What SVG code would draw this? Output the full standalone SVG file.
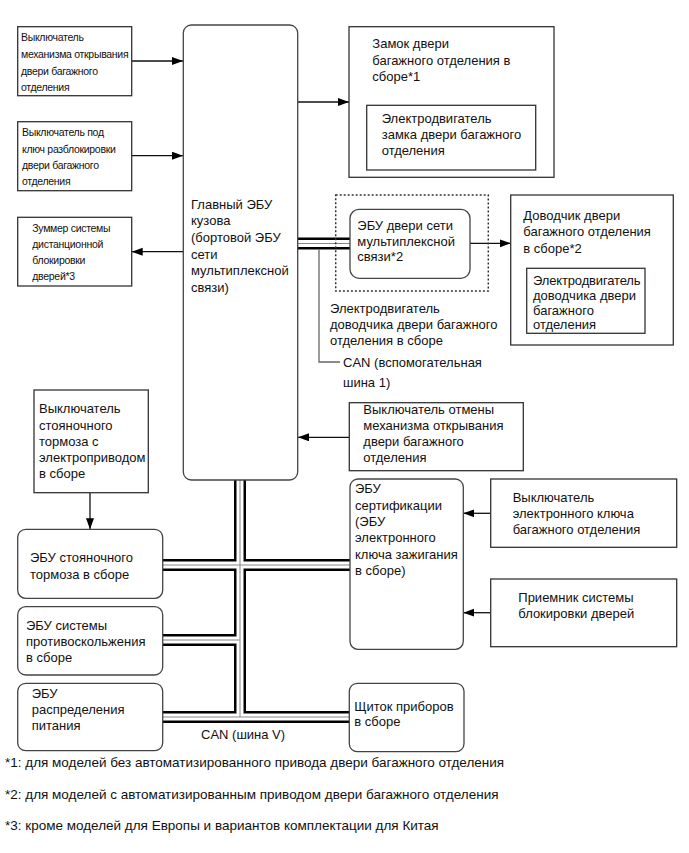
<svg xmlns="http://www.w3.org/2000/svg" width="689" height="853" viewBox="0 0 689 853">
<style>
text{font-family:"Liberation Sans",Arial,sans-serif;font-size:13px;fill:#111}
.s{font-size:10.5px;letter-spacing:-0.3px}
.fn{font-size:13.5px}
.box{fill:#fff;stroke:#333;stroke-width:1.3}
.rbox{fill:#fff;stroke:#444;stroke-width:1.3}
.dot{fill:none;stroke:#333;stroke-width:1.5;stroke-dasharray:2 2}
.arr{fill:none;stroke:#111;stroke-width:1.3;marker-end:url(#ah)}
.bk{fill:none;stroke:#000;stroke-width:12}
.wh{fill:none;stroke:#fff;stroke-width:7}
.gr{fill:none;stroke:#888;stroke-width:1}
.sub{fill:none;stroke:#666;stroke-width:1.3}
</style>
<defs>
<marker id="ah" markerUnits="userSpaceOnUse" markerWidth="12" markerHeight="10" refX="11" refY="4" orient="auto">
<path d="M0,0 L11,4 L0,8 Z" fill="#000"/>
</marker>
</defs>
<rect width="689" height="853" fill="#fff"/>

<g id="connectors">
<path class="bk" d="M298,243.5 H350"/>
<path class="bk" d="M240,480 V717"/>
<path class="bk" d="M162.7,565 H350"/>
<path class="bk" d="M162.7,640 H240"/>
<path class="bk" d="M162.7,717 H349.3"/>
<path class="wh" d="M298,243.5 H350"/>
<path class="wh" d="M240,480 V717"/>
<path class="wh" d="M162.7,565 H350"/>
<path class="wh" d="M162.7,640 H240"/>
<path class="wh" d="M162.7,717 H349.3"/>
<path class="gr" d="M298,243.5 H350"/>
<path class="gr" d="M240,480 V717"/>
<path class="gr" d="M162.7,565 H350"/>
<path class="gr" d="M162.7,640 H240"/>
<path class="gr" d="M162.7,717 H349.3"/>
<path class="sub" d="M319,249.5 V362 H340"/>
<path class="arr" d="M131.7,61 H183"/>
<path class="arr" d="M131.7,155.7 H183"/>
<path class="arr" d="M183,251.7 H131.7"/>
<path class="arr" d="M298,102 H349"/>
<path class="arr" d="M470,243.3 H510.7"/>
<path class="arr" d="M349.3,437.3 H298"/>
<path class="arr" d="M490.7,513.3 H463.3"/>
<path class="arr" d="M490.7,612.7 H463.3"/>
<path class="arr" d="M90,492.7 V529.3"/>
</g>

<g id="main-ecu">
<rect class="rbox" x="183.3" y="25" width="114.4" height="455" rx="8"/>
<text x="191" y="208.5">Главный ЭБУ</text>
<text x="191" y="225">кузова</text>
<text x="191" y="241.5">(бортовой ЭБУ</text>
<text x="191" y="258.5">сети</text>
<text x="191" y="275">мультиплексной</text>
<text x="191" y="291.5">связи)</text>
</g>

<g id="sw-open">
<rect class="box" x="17.7" y="26.7" width="114" height="69"/>
<text class="s" x="21" y="41">Выключатель</text>
<text class="s" x="21" y="58">механизма открывания</text>
<text class="s" x="21" y="74.5">двери багажного</text>
<text class="s" x="21" y="90.5">отделения</text>
</g>

<g id="sw-key">
<rect class="box" x="17.7" y="121.7" width="114" height="69"/>
<text class="s" x="22" y="136">Выключатель под</text>
<text class="s" x="22" y="152.5">ключ разблокировки</text>
<text class="s" x="22" y="169">двери багажного</text>
<text class="s" x="22" y="185">отделения</text>
</g>

<g id="buzzer">
<rect class="box" x="17.7" y="217.3" width="114" height="68.7"/>
<text class="s" x="32.3" y="231.5">Зуммер системы</text>
<text class="s" x="32.3" y="248">дистанционной</text>
<text class="s" x="32.3" y="264">блокировки</text>
<text class="s" x="32.3" y="280">дверей*3</text>
</g>

<g id="lock">
<rect class="box" x="349" y="26.7" width="205" height="150.6"/>
<text x="372.3" y="48">Замок двери</text>
<text x="372.3" y="64.5">багажного отделения в</text>
<text x="372.3" y="81">сборе*1</text>
<rect class="box" x="366.7" y="105.3" width="169" height="64.7"/>
<text x="381.7" y="123">Электродвигатель</text>
<text x="381.7" y="139">замка двери багажного</text>
<text x="381.7" y="155">отделения</text>
</g>

<g id="door-ecu">
<rect class="dot" x="335.7" y="195" width="152.6" height="96"/>
<rect class="rbox" x="350" y="209.3" width="120" height="69" rx="9"/>
<text x="357.3" y="229.5">ЭБУ двери сети</text>
<text x="357.3" y="245.5">мультиплексной</text>
<text x="357.3" y="261">связи*2</text>
<text x="330" y="313">Электродвигатель</text>
<text x="330" y="329">доводчика двери багажного</text>
<text x="330" y="345">отделения в сборе</text>
</g>

<g id="closer">
<rect class="box" x="510.7" y="195" width="162.6" height="150"/>
<text x="523.3" y="219.5">Доводчик двери</text>
<text x="523.3" y="236">багажного отделения</text>
<text x="523.3" y="252.5">в сборе*2</text>
<rect class="box" x="526.7" y="268.3" width="118.3" height="65"/>
<text x="533" y="284.5" style="letter-spacing:-0.15px">Электродвигатель</text>
<text x="533" y="299.5">доводчика двери</text>
<text x="533" y="314.5">багажного</text>
<text x="533" y="329">отделения</text>
</g>

<g id="can-sub-label">
<text x="343" y="366.5">CAN (вспомогательная</text>
<text x="343" y="386.5">шина 1)</text>
</g>

<g id="sw-cancel">
<rect class="box" x="349.3" y="402.7" width="174" height="68"/>
<text x="363.3" y="414">Выключатель отмены</text>
<text x="363.3" y="430">механизма открывания</text>
<text x="363.3" y="446">двери багажного</text>
<text x="363.3" y="462">отделения</text>
</g>

<g id="cert-ecu">
<rect class="rbox" x="350" y="479" width="113.3" height="170.3" rx="8"/>
<text x="355" y="493">ЭБУ</text>
<text x="355" y="510">сертификации</text>
<text x="355" y="526">(ЭБУ</text>
<text x="355" y="542">электронного</text>
<text x="355" y="558.5">ключа зажигания</text>
<text x="355" y="575">в сборе)</text>
</g>

<g id="sw-ekey">
<rect class="box" x="490.7" y="479" width="186" height="68.3"/>
<text x="512.7" y="502">Выключатель</text>
<text x="512.7" y="518">электронного ключа</text>
<text x="512.7" y="534">багажного отделения</text>
</g>

<g id="receiver">
<rect class="box" x="490.7" y="579" width="186" height="67.7"/>
<text x="518.3" y="602">Приемник системы</text>
<text x="518.3" y="618">блокировки дверей</text>
</g>

<g id="sw-parking">
<rect class="box" x="34" y="390" width="114.3" height="102.7"/>
<text x="39" y="413">Выключатель</text>
<text x="39" y="429.5">стояночного</text>
<text x="39" y="445.5">тормоза с</text>
<text x="39" y="461.5">электроприводом</text>
<text x="39" y="477.5">в сборе</text>
</g>

<g id="parking-ecu">
<rect class="rbox" x="17.7" y="529.3" width="145" height="69" rx="8"/>
<text x="30" y="562">ЭБУ стояночного</text>
<text x="30" y="578.5">тормоза в сборе</text>
</g>

<g id="skid-ecu">
<rect class="rbox" x="17.7" y="606.7" width="145" height="68.3" rx="8"/>
<text x="26" y="629.5">ЭБУ системы</text>
<text x="26" y="645.5">противоскольжения</text>
<text x="26" y="662">в сборе</text>
</g>

<g id="power-ecu">
<rect class="rbox" x="17.7" y="683.3" width="145" height="67.4" rx="8"/>
<text x="31.7" y="698">ЭБУ</text>
<text x="31.7" y="713.5">распределения</text>
<text x="31.7" y="729.5">питания</text>
</g>

<g id="meter">
<rect class="rbox" x="349.3" y="683.3" width="114.7" height="68.4" rx="8"/>
<text x="354.3" y="710.5">Щиток приборов</text>
<text x="354.3" y="726">в сборе</text>
</g>

<g id="can-v-label">
<text x="201" y="738.5">CAN (шина V)</text>
</g>

<g id="footnotes">
<text class="fn" x="5" y="767">*1: для моделей без автоматизированного привода двери багажного отделения</text>
<text class="fn" x="5" y="798.5">*2: для моделей с автоматизированным приводом двери багажного отделения</text>
<text class="fn" x="5" y="829.5">*3: кроме моделей для Европы и вариантов комплектации для Китая</text>
</g>
</svg>
